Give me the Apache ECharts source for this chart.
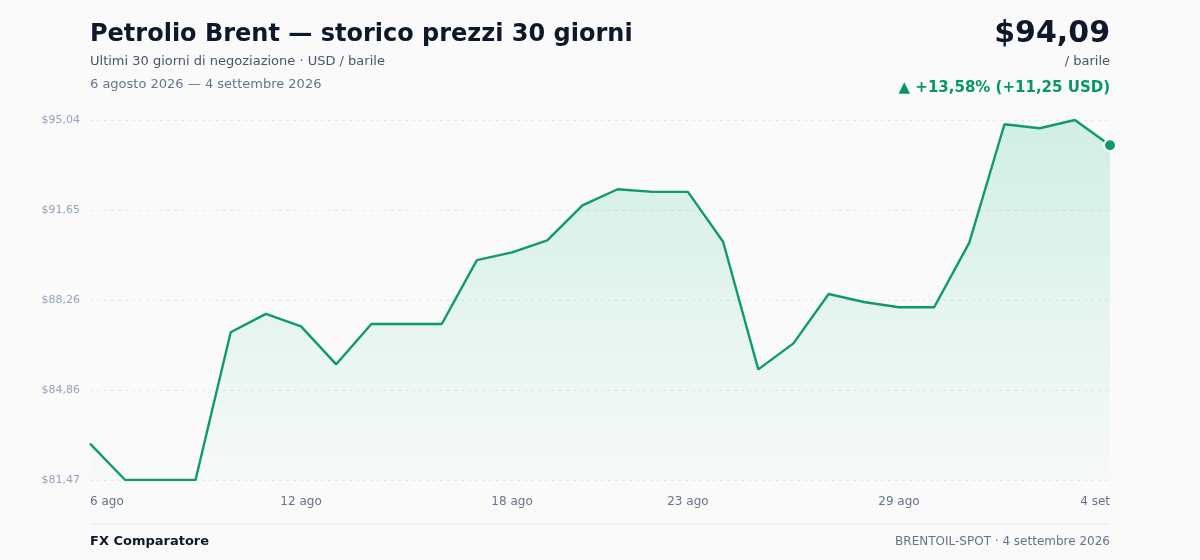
<!DOCTYPE html>
<html>
<head>
<meta charset="utf-8">
<script src="https://cdn.jsdelivr.net/npm/echarts@6/dist/echarts.min.js"></script>
<style>
html,body{margin:0;padding:0;background:#fafafa;}
#chart{width:1200px;height:560px;}
</style>
</head>
<body>
<div id="chart"></div>
<script>
const categories = ["6 ago","7 ago","8 ago","9 ago","10 ago","11 ago","12 ago","13 ago","14 ago","15 ago","16 ago","17 ago","18 ago","19 ago","20 ago","21 ago","22 ago","23 ago","24 ago","25 ago","26 ago","27 ago","28 ago","29 ago","30 ago","31 ago","1 set","2 set","3 set","4 set"];
const prices = [82.84,81.47,81.47,81.47,87.04,87.73,87.26,85.83,87.35,87.35,87.35,89.76,90.05,90.50,91.82,92.43,92.33,92.33,90.45,85.64,86.62,88.48,88.18,87.98,87.98,90.42,94.88,94.73,95.04,94.09];
const shownLabels = [0,6,12,17,23,29];
const yTickLabels = ["$81,47","$84,86","$88,26","$91,65","$95,04"];
const yMin = 81.47, yMax = 95.04;

const FONT = "DejaVu Sans";
const green = "#0f9a6c";

const chart = echarts.init(document.getElementById('chart'), null, {renderer:'canvas'});
const lastIdx = prices.length - 1;
chart.setOption({
  backgroundColor: '#fafafa',
  animation: false,
  textStyle: {fontFamily: FONT},
  title: [
    {text: 'Petrolio Brent — storico prezzi 30 giorni', left: 90, top: 23, padding: 0,
     textStyle: {fontFamily: FONT, fontSize: 24, fontWeight: 'bold', color: '#0f172a'}},
    {text: 'Ultimi 30 giorni di negoziazione · USD / barile', left: 90, top: 55, padding: 0,
     textStyle: {fontFamily: FONT, fontSize: 13, fontWeight: 'normal', color: '#475569'}},
    {text: '6 agosto 2026 — 4 settembre 2026', left: 90, top: 78, padding: 0,
     textStyle: {fontFamily: FONT, fontSize: 13, fontWeight: 'normal', color: '#64748b'}},
    {text: '$94,09', right: 90, top: 19, padding: 0,
     textStyle: {fontFamily: FONT, fontSize: 30, fontWeight: 'bold', color: '#0f172a'}},
    {text: '/ barile', right: 90, top: 55, padding: 0,
     textStyle: {fontFamily: FONT, fontSize: 13, fontWeight: 'normal', color: '#475569'}},
    {text: '▲ +13,58% (+11,25 USD)', right: 90, top: 81, padding: 0,
     textStyle: {fontFamily: FONT, fontSize: 15, fontWeight: 'bold', color: '#059669'}},
    {text: 'FX Comparatore', left: 90, top: 535, padding: 0,
     textStyle: {fontFamily: FONT, fontSize: 13, fontWeight: 'bold', color: '#0f172a'}},
    {text: 'BRENTOIL-SPOT · 4 settembre 2026', right: 90, top: 536, padding: 0,
     textStyle: {fontFamily: FONT, fontSize: 12, fontWeight: 'normal', color: '#64748b'}}
  ],
  graphic: [
    {type: 'line', shape: {x1: 90, y1: 524, x2: 1110, y2: 524},
     style: {stroke: '#e5e7eb', lineWidth: 1}}
  ],
  grid: {left: 90, right: 90, top: 120, bottom: 80, containLabel: false},
  xAxis: {
    type: 'category',
    data: categories,
    boundaryGap: false,
    axisLine: {show: false},
    axisTick: {show: false},
    axisLabel: {
      interval: function(i){ return shownLabels.indexOf(i) >= 0; },
      color: '#64748b', fontSize: 12, fontFamily: FONT, margin: 16,
      alignMinLabel: 'left', alignMaxLabel: 'right'
    },
    splitLine: {show: false}
  },
  yAxis: {
    type: 'value',
    min: yMin, max: yMax, interval: (yMax - yMin) / 4,
    axisLine: {show: false},
    axisTick: {show: false},
    axisLabel: {
      color: '#94a3b8', fontSize: 11, fontFamily: FONT, margin: 10,
      formatter: function(v, i){ return yTickLabels[i] !== undefined ? yTickLabels[i] : ''; }
    },
    splitLine: {show: true, lineStyle: {color: '#e5e7eb', type: [3, 4], width: 1}}
  },
  series: [{
    type: 'line',
    data: prices.map(function(v, i){
      if (i === lastIdx) {
        return {value: v, symbol: 'circle', symbolSize: 12,
          itemStyle: {color: green, borderColor: '#ffffff', borderWidth: 2}};
      }
      return v;
    }),
    showSymbol: true,
    symbol: 'none',
    lineStyle: {color: green, width: 2.4},
    itemStyle: {color: green},
    areaStyle: {
      color: new echarts.graphic.LinearGradient(0, 0, 0, 1, [
        {offset: 0, color: 'rgba(16,185,129,0.25)'},
        {offset: 1, color: 'rgba(16,185,129,0.02)'}
      ])
    }
  }]
});
</script>
</body>
</html>
